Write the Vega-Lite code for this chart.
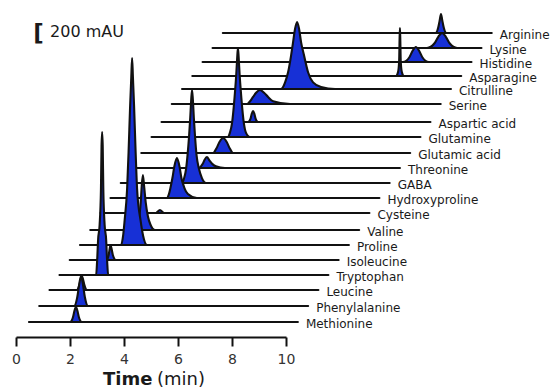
{
"$schema":"https://vega.github.io/schema/vega-lite/v6.json",
"width":270,"height":324,
"autosize":{"type":"none"},
"padding":{"left":16,"top":13,"right":270,"bottom":51},
"background":"white",
"config":{"view":{"stroke":null},"font":"DejaVu Sans",
 "axisX":{"values":[0,2,4,6,8,10],"title":null,"grid":false,"domainColor":"#111111","domainWidth":2,"tickColor":"#111111","tickWidth":2,"tickSize":9,"labelFont":"DejaVu Sans","labelFontSize":14,"labelColor":"#333333","labelPadding":6,"labelFlush":false}},
"datasets":{"traces":[
{"a":"Arginine","b":3378,"t":7.66,"v":3378},{"a":"Arginine","b":3378,"t":15.54,"v":3378},{"a":"Arginine","b":3378,"t":15.64,"v":3441},{"a":"Arginine","b":3378,"t":15.69,"v":3515},{"a":"Arginine","b":3378,"t":15.74,"v":3589},{"a":"Arginine","b":3378,"t":15.79,"v":3515},{"a":"Arginine","b":3378,"t":15.84,"v":3441},{"a":"Arginine","b":3378,"t":15.94,"v":3378},{"a":"Arginine","b":3378,"t":17.62,"v":3378},
{"a":"Lysine","b":3211,"t":7.28,"v":3211},{"a":"Lysine","b":3211,"t":15.22,"v":3211},{"a":"Lysine","b":3211,"t":15.5,"v":3264},{"a":"Lysine","b":3211,"t":15.64,"v":3336},{"a":"Lysine","b":3211,"t":15.78,"v":3378},{"a":"Lysine","b":3211,"t":15.92,"v":3336},{"a":"Lysine","b":3211,"t":16.06,"v":3264},{"a":"Lysine","b":3211,"t":16.34,"v":3211},{"a":"Lysine","b":3211,"t":17.24,"v":3211},
{"a":"Histidine","b":3055,"t":6.91,"v":3055},{"a":"Histidine","b":3055,"t":14.33,"v":3055},{"a":"Histidine","b":3055,"t":14.57,"v":3108},{"a":"Histidine","b":3055,"t":14.69,"v":3180},{"a":"Histidine","b":3055,"t":14.81,"v":3222},{"a":"Histidine","b":3055,"t":14.93,"v":3180},{"a":"Histidine","b":3055,"t":15.05,"v":3108},{"a":"Histidine","b":3055,"t":15.29,"v":3055},{"a":"Histidine","b":3055,"t":16.87,"v":3055},
{"a":"Asparagine","b":2900,"t":6.53,"v":2900},{"a":"Asparagine","b":2900,"t":14.07,"v":2900},{"a":"Asparagine","b":2900,"t":14.15,"v":2943},{"a":"Asparagine","b":2900,"t":14.19,"v":3060},{"a":"Asparagine","b":2900,"t":14.208,"v":3326},{"a":"Asparagine","b":2900,"t":14.22,"v":3433},{"a":"Asparagine","b":2900,"t":14.232,"v":3326},{"a":"Asparagine","b":2900,"t":14.25,"v":3060},{"a":"Asparagine","b":2900,"t":14.29,"v":2943},{"a":"Asparagine","b":2900,"t":14.37,"v":2900},{"a":"Asparagine","b":2900,"t":16.49,"v":2900},
{"a":"Citrulline","b":2755,"t":6.15,"v":2755},{"a":"Citrulline","b":2755,"t":9.82,"v":2755},{"a":"Citrulline","b":2755,"t":9.891,"v":2777},{"a":"Citrulline","b":2755,"t":9.966,"v":2829},{"a":"Citrulline","b":2755,"t":10.077,"v":2941},{"a":"Citrulline","b":2755,"t":10.188,"v":3127},{"a":"Citrulline","b":2755,"t":10.262,"v":3276},{"a":"Citrulline","b":2755,"t":10.336,"v":3425},{"a":"Citrulline","b":2755,"t":10.41,"v":3499},{"a":"Citrulline","b":2755,"t":10.484,"v":3425},{"a":"Citrulline","b":2755,"t":10.558,"v":3276},{"a":"Citrulline","b":2755,"t":10.669,"v":3127},{"a":"Citrulline","b":2755,"t":10.817,"v":2941},{"a":"Citrulline","b":2755,"t":11.003,"v":2829},{"a":"Citrulline","b":2755,"t":11.299,"v":2777},{"a":"Citrulline","b":2755,"t":11.817,"v":2755},{"a":"Citrulline","b":2755,"t":16.11,"v":2755},
{"a":"Serine","b":2589,"t":5.77,"v":2589},{"a":"Serine","b":2589,"t":8.559,"v":2589},{"a":"Serine","b":2589,"t":8.67,"v":2620},{"a":"Serine","b":2589,"t":8.781,"v":2667},{"a":"Serine","b":2589,"t":8.892,"v":2714},{"a":"Serine","b":2589,"t":9.04,"v":2745},{"a":"Serine","b":2589,"t":9.188,"v":2714},{"a":"Serine","b":2589,"t":9.336,"v":2667},{"a":"Serine","b":2589,"t":9.521,"v":2620},{"a":"Serine","b":2589,"t":10.151,"v":2589},{"a":"Serine","b":2589,"t":15.73,"v":2589},
{"a":"Aspartic acid","b":2389,"t":5.39,"v":2389},{"a":"Aspartic acid","b":2389,"t":8.595,"v":2389},{"a":"Aspartic acid","b":2389,"t":8.687,"v":2427},{"a":"Aspartic acid","b":2389,"t":8.733,"v":2482},{"a":"Aspartic acid","b":2389,"t":8.78,"v":2511},{"a":"Aspartic acid","b":2389,"t":8.827,"v":2482},{"a":"Aspartic acid","b":2389,"t":8.873,"v":2427},{"a":"Aspartic acid","b":2389,"t":8.965,"v":2389},{"a":"Aspartic acid","b":2389,"t":15.35,"v":2389},
{"a":"Glutamine","b":2222,"t":5.02,"v":2222},{"a":"Glutamine","b":2222,"t":7.85,"v":2222},{"a":"Glutamine","b":2222,"t":7.924,"v":2271},{"a":"Glutamine","b":2222,"t":7.998,"v":2370},{"a":"Glutamine","b":2222,"t":8.053,"v":2519},{"a":"Glutamine","b":2222,"t":8.109,"v":2717},{"a":"Glutamine","b":2222,"t":8.157,"v":2914},{"a":"Glutamine","b":2222,"t":8.194,"v":3112},{"a":"Glutamine","b":2222,"t":8.22,"v":3211},{"a":"Glutamine","b":2222,"t":8.246,"v":3112},{"a":"Glutamine","b":2222,"t":8.283,"v":2914},{"a":"Glutamine","b":2222,"t":8.331,"v":2717},{"a":"Glutamine","b":2222,"t":8.387,"v":2519},{"a":"Glutamine","b":2222,"t":8.442,"v":2370},{"a":"Glutamine","b":2222,"t":8.516,"v":2271},{"a":"Glutamine","b":2222,"t":8.664,"v":2222},{"a":"Glutamine","b":2222,"t":14.98,"v":2222},
{"a":"Glutamic acid","b":2044,"t":4.64,"v":2044},{"a":"Glutamic acid","b":2044,"t":7.3,"v":2044},{"a":"Glutamic acid","b":2044,"t":7.42,"v":2094},{"a":"Glutamic acid","b":2044,"t":7.54,"v":2169},{"a":"Glutamic acid","b":2044,"t":7.67,"v":2211},{"a":"Glutamic acid","b":2044,"t":7.8,"v":2169},{"a":"Glutamic acid","b":2044,"t":7.92,"v":2094},{"a":"Glutamic acid","b":2044,"t":8.04,"v":2044},{"a":"Glutamic acid","b":2044,"t":14.6,"v":2044},
{"a":"Threonine","b":1878,"t":4.26,"v":1878},{"a":"Threonine","b":1878,"t":6.774,"v":1878},{"a":"Threonine","b":1878,"t":6.848,"v":1896},{"a":"Threonine","b":1878,"t":6.922,"v":1927},{"a":"Threonine","b":1878,"t":6.977,"v":1963},{"a":"Threonine","b":1878,"t":7.07,"v":2000},{"a":"Threonine","b":1878,"t":7.163,"v":1963},{"a":"Threonine","b":1878,"t":7.255,"v":1927},{"a":"Threonine","b":1878,"t":7.403,"v":1896},{"a":"Threonine","b":1878,"t":7.737,"v":1878},{"a":"Threonine","b":1878,"t":14.22,"v":1878},
{"a":"GABA","b":1711,"t":3.88,"v":1711},{"a":"GABA","b":1711,"t":6.15,"v":1711},{"a":"GABA","b":1711,"t":6.224,"v":1763},{"a":"GABA","b":1711,"t":6.298,"v":1866},{"a":"GABA","b":1711,"t":6.353,"v":2021},{"a":"GABA","b":1711,"t":6.409,"v":2228},{"a":"GABA","b":1711,"t":6.453,"v":2434},{"a":"GABA","b":1711,"t":6.49,"v":2641},{"a":"GABA","b":1711,"t":6.52,"v":2744},{"a":"GABA","b":1711,"t":6.55,"v":2641},{"a":"GABA","b":1711,"t":6.587,"v":2434},{"a":"GABA","b":1711,"t":6.631,"v":2228},{"a":"GABA","b":1711,"t":6.687,"v":2021},{"a":"GABA","b":1711,"t":6.779,"v":1866},{"a":"GABA","b":1711,"t":6.89,"v":1763},{"a":"GABA","b":1711,"t":7.039,"v":1711},{"a":"GABA","b":1711,"t":13.84,"v":1711},
{"a":"Hydroxyproline","b":1544,"t":3.5,"v":1544},{"a":"Hydroxyproline","b":1544,"t":5.59,"v":1544},{"a":"Hydroxyproline","b":1544,"t":5.664,"v":1588},{"a":"Hydroxyproline","b":1544,"t":5.719,"v":1655},{"a":"Hydroxyproline","b":1544,"t":5.793,"v":1766},{"a":"Hydroxyproline","b":1544,"t":5.867,"v":1899},{"a":"Hydroxyproline","b":1544,"t":5.96,"v":1988},{"a":"Hydroxyproline","b":1544,"t":6.053,"v":1899},{"a":"Hydroxyproline","b":1544,"t":6.127,"v":1766},{"a":"Hydroxyproline","b":1544,"t":6.238,"v":1655},{"a":"Hydroxyproline","b":1544,"t":6.367,"v":1588},{"a":"Hydroxyproline","b":1544,"t":6.7,"v":1544},{"a":"Hydroxyproline","b":1544,"t":13.46,"v":1544},
{"a":"Cysteine","b":1378,"t":3.13,"v":1378},{"a":"Cysteine","b":1378,"t":5.18,"v":1378},{"a":"Cysteine","b":1378,"t":5.33,"v":1411},{"a":"Cysteine","b":1378,"t":5.48,"v":1378},{"a":"Cysteine","b":1378,"t":13.09,"v":1378},
{"a":"Valine","b":1189,"t":2.75,"v":1189},{"a":"Valine","b":1189,"t":4.478,"v":1189},{"a":"Valine","b":1189,"t":4.533,"v":1250},{"a":"Valine","b":1189,"t":4.57,"v":1342},{"a":"Valine","b":1189,"t":4.619,"v":1495},{"a":"Valine","b":1189,"t":4.656,"v":1678},{"a":"Valine","b":1189,"t":4.7,"v":1800},{"a":"Valine","b":1189,"t":4.744,"v":1678},{"a":"Valine","b":1189,"t":4.804,"v":1495},{"a":"Valine","b":1189,"t":4.885,"v":1342},{"a":"Valine","b":1189,"t":4.978,"v":1250},{"a":"Valine","b":1189,"t":5.144,"v":1189},{"a":"Valine","b":1189,"t":12.71,"v":1189},
{"a":"Proline","b":1022,"t":2.37,"v":1022},{"a":"Proline","b":1022,"t":3.893,"v":1022},{"a":"Proline","b":1022,"t":3.967,"v":1126},{"a":"Proline","b":1022,"t":4.022,"v":1292},{"a":"Proline","b":1022,"t":4.115,"v":1645},{"a":"Proline","b":1022,"t":4.17,"v":2061},{"a":"Proline","b":1022,"t":4.226,"v":2560},{"a":"Proline","b":1022,"t":4.27,"v":2892},{"a":"Proline","b":1022,"t":4.3,"v":3100},{"a":"Proline","b":1022,"t":4.33,"v":2892},{"a":"Proline","b":1022,"t":4.374,"v":2560},{"a":"Proline","b":1022,"t":4.43,"v":2061},{"a":"Proline","b":1022,"t":4.485,"v":1645},{"a":"Proline","b":1022,"t":4.615,"v":1292},{"a":"Proline","b":1022,"t":4.707,"v":1126},{"a":"Proline","b":1022,"t":4.856,"v":1022},{"a":"Proline","b":1022,"t":12.33,"v":1022},
{"a":"Isoleucine","b":855,"t":1.99,"v":855},{"a":"Isoleucine","b":855,"t":3.35,"v":855},{"a":"Isoleucine","b":855,"t":3.43,"v":908},{"a":"Isoleucine","b":855,"t":3.47,"v":980},{"a":"Isoleucine","b":855,"t":3.5,"v":1022},{"a":"Isoleucine","b":855,"t":3.54,"v":980},{"a":"Isoleucine","b":855,"t":3.59,"v":908},{"a":"Isoleucine","b":855,"t":3.7,"v":855},{"a":"Isoleucine","b":855,"t":11.95,"v":855},
{"a":"Tryptophan","b":689,"t":1.61,"v":689},{"a":"Tryptophan","b":689,"t":2.968,"v":689},{"a":"Tryptophan","b":689,"t":3.005,"v":848},{"a":"Tryptophan","b":689,"t":3.042,"v":1086},{"a":"Tryptophan","b":689,"t":3.097,"v":1245},{"a":"Tryptophan","b":689,"t":3.146,"v":1642},{"a":"Tryptophan","b":689,"t":3.168,"v":2119},{"a":"Tryptophan","b":689,"t":3.19,"v":2278},{"a":"Tryptophan","b":689,"t":3.212,"v":2119},{"a":"Tryptophan","b":689,"t":3.234,"v":1642},{"a":"Tryptophan","b":689,"t":3.283,"v":1245},{"a":"Tryptophan","b":689,"t":3.338,"v":1086},{"a":"Tryptophan","b":689,"t":3.375,"v":848},{"a":"Tryptophan","b":689,"t":3.412,"v":689},{"a":"Tryptophan","b":689,"t":11.57,"v":689},
{"a":"Leucine","b":522,"t":1.24,"v":522},{"a":"Leucine","b":522,"t":2.25,"v":522},{"a":"Leucine","b":522,"t":2.34,"v":572},{"a":"Leucine","b":522,"t":2.395,"v":639},{"a":"Leucine","b":522,"t":2.44,"v":678},{"a":"Leucine","b":522,"t":2.485,"v":639},{"a":"Leucine","b":522,"t":2.54,"v":572},{"a":"Leucine","b":522,"t":2.63,"v":522},{"a":"Leucine","b":522,"t":11.2,"v":522},
{"a":"Phenylalanine","b":344,"t":0.86,"v":344},{"a":"Phenylalanine","b":344,"t":2.15,"v":344},{"a":"Phenylalanine","b":344,"t":2.27,"v":444},{"a":"Phenylalanine","b":344,"t":2.34,"v":584},{"a":"Phenylalanine","b":344,"t":2.41,"v":677},{"a":"Phenylalanine","b":344,"t":2.48,"v":584},{"a":"Phenylalanine","b":344,"t":2.55,"v":444},{"a":"Phenylalanine","b":344,"t":2.67,"v":344},{"a":"Phenylalanine","b":344,"t":10.82,"v":344},
{"a":"Methionine","b":167,"t":0.48,"v":167},{"a":"Methionine","b":167,"t":2.0,"v":167},{"a":"Methionine","b":167,"t":2.11,"v":220},{"a":"Methionine","b":167,"t":2.165,"v":292},{"a":"Methionine","b":167,"t":2.22,"v":334},{"a":"Methionine","b":167,"t":2.275,"v":292},{"a":"Methionine","b":167,"t":2.33,"v":220},{"a":"Methionine","b":167,"t":2.44,"v":167},{"a":"Methionine","b":167,"t":10.44,"v":167}
]},
"data":{"name":"traces"},
"layer":[
{"mark":{"type":"area","interpolate":"monotone","fill":"#1730d6","fillOpacity":1,"opacity":1,"stroke":"#111111","strokeWidth":2.1,"strokeJoin":"round"},
 "encoding":{
  "x":{"field":"t","type":"quantitative","title":null,"scale":{"domain":[0,10],"nice":false,"zero":false}},
  "y":{"field":"v","type":"quantitative","scale":{"domain":[0,3600],"nice":false,"zero":false},"axis":null},
  "y2":{"field":"b"},
  "detail":{"field":"a"}}},
{"transform":[{"aggregate":[{"op":"max","field":"t","as":"te"}],"groupby":["a","b"]}],
 "mark":{"type":"text","align":"left","baseline":"middle","dx":8,"dy":2,"font":"DejaVu Sans","fontSize":12,"color":"#1a1a1a"},
 "encoding":{
  "x":{"field":"te","type":"quantitative","title":null,"scale":{"domain":[0,10],"nice":false,"zero":false}},
  "y":{"field":"b","type":"quantitative","scale":{"domain":[0,3600],"nice":false,"zero":false},"axis":null},
  "text":{"field":"a"}}},
{"data":{"values":[{"label":"Time"}]},
 "mark":{"type":"text","align":"left","baseline":"middle","font":"DejaVu Sans","fontSize":18,"fontWeight":"bold","color":"#1a1a1a"},
 "encoding":{"x":{"datum":3.22,"title":null},"y":{"datum":-480,"axis":null},"text":{"field":"label"}}},
{"data":{"values":[{"label":"(min)"}]},
 "mark":{"type":"text","align":"left","baseline":"middle","font":"DejaVu Sans","fontSize":18,"color":"#1a1a1a"},
 "encoding":{"x":{"datum":5.22,"title":null},"y":{"datum":-480,"axis":null},"text":{"field":"label"}}},
{"data":{"values":[{"label":"["}]},
 "mark":{"type":"text","align":"left","baseline":"middle","font":"DejaVu Sans","fontSize":23,"fontWeight":"bold","color":"#1a1a1a"},
 "encoding":{"x":{"datum":0.64,"title":null},"y":{"datum":3366,"axis":null},"text":{"field":"label"}}},
{"data":{"values":[{"label":"200 mAU"}]},
 "mark":{"type":"text","align":"left","baseline":"middle","font":"DejaVu Sans","fontSize":16,"color":"#1a1a1a"},
 "encoding":{"x":{"datum":1.26,"title":null},"y":{"datum":3389,"axis":null},"text":{"field":"label"}}}
]
}
